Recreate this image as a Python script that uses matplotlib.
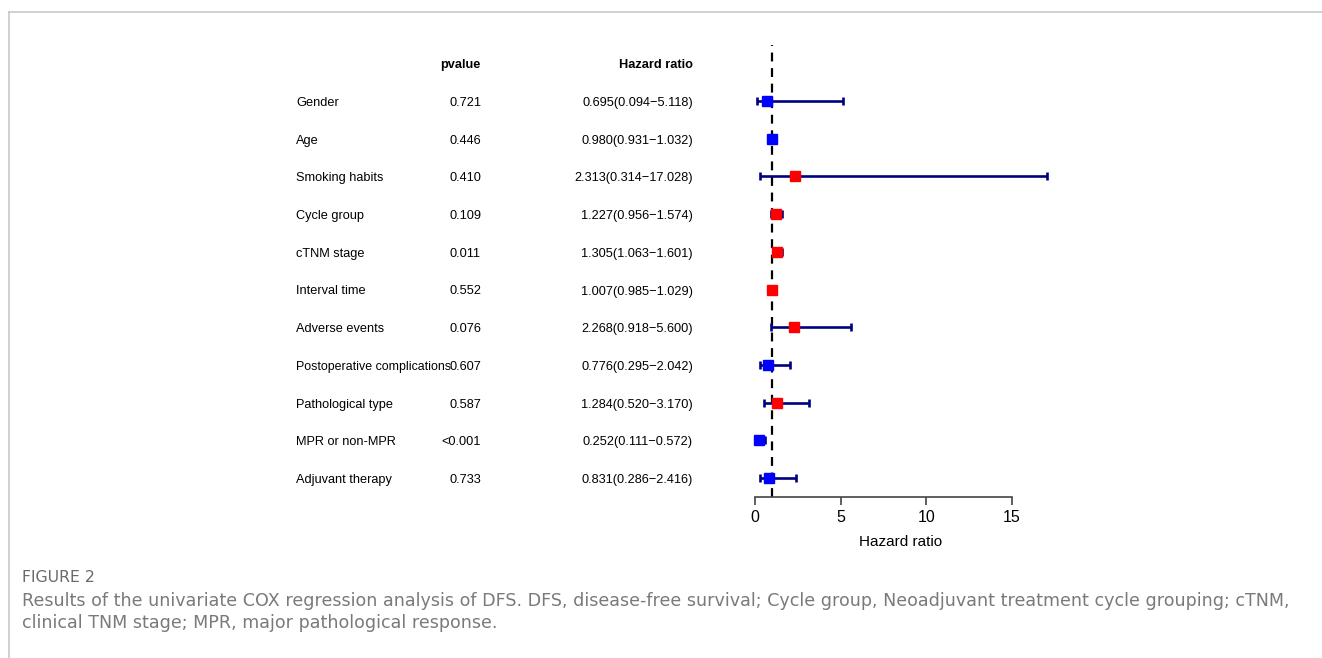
import matplotlib.pyplot as plt
from matplotlib import transforms

# variables and statistics
variables = ['Gender', 'Age', 'Smoking habits', 'Cycle group', 'cTNM stage',
             'Interval time', 'Adverse events', 'Postoperative complications',
             'Pathological type', 'MPR or non-MPR', 'Adjuvant therapy']
pvalues = ['0.721', '0.446', '0.410', '0.109', '0.011', '0.552', '0.076',
           '0.607', '0.587', '<0.001', '0.733']
hr = [0.695, 0.980, 2.313, 1.227, 1.305, 1.007, 2.268, 0.776, 1.284, 0.252, 0.831]
hr_low = [0.094, 0.931, 0.314, 0.956, 1.063, 0.985, 0.918, 0.295, 0.520, 0.111, 0.286]
hr_high = [5.118, 1.032, 17.028, 1.574, 1.601, 1.029, 5.600, 2.042, 3.170, 0.572, 2.416]
xticks = [0, 5, 10, 15]

W, H = 1322, 658
fig = plt.figure(figsize=(W / 100, H / 100), dpi=100)
plt.rcParams['font.family'] = ['Liberation Sans', 'DejaVu Sans']

# light frame of the figure panel
fig.add_artist(plt.Line2D([9 / W, 9 / W], [0, 1 - 12 / H], color='#c8c8c8', lw=1.2))
fig.add_artist(plt.Line2D([9 / W, 1], [1 - 12 / H, 1 - 12 / H], color='#c8c8c8', lw=1.2))

# forest plot axes: x=0 at 755 px, x=15 at 1012 px
px_unit = (1012 - 755) / 15
xmax = 17.6
ax_left, ax_top, ax_bot = 755, 45, 497
ax = fig.add_axes([ax_left / W, 1 - ax_bot / H, xmax * px_unit / W, (ax_bot - ax_top) / H])
ax.set_xlim(0, xmax)
row_px = 37.7
ax.set_ylim(10 + (ax_bot - 478) / row_px, -(101 - ax_top) / row_px)

rows = list(range(len(variables)))
for i in rows:
    ax.errorbar(hr[i], i, xerr=[[hr[i] - hr_low[i]], [hr_high[i] - hr[i]]],
                fmt='none', ecolor='#000080', elinewidth=1.9, capsize=3, capthick=1.9,
                clip_on=False, zorder=2)
    ax.plot(hr[i], i, marker='s', markersize=7.5, linestyle='none',
            color='red' if hr[i] > 1 else 'blue', clip_on=False, zorder=3)

ax.axvline(1, color='black', lw=1.6, dashes=(4, 3), zorder=1)

for s in ['top', 'right', 'left']:
    ax.spines[s].set_visible(False)
ax.spines['bottom'].set_bounds(0, 15)
ax.spines['bottom'].set_color('#444444')
ax.spines['bottom'].set_linewidth(1.2)
ax.set_yticks([])
ax.set_xticks(xticks)
ax.tick_params(axis='x', length=6, width=1.2, color='#444444', labelsize=11.5, pad=3)
ax.set_xlabel('Hazard ratio', fontsize=11)
ax.xaxis.set_label_coords(901 / W, 1 - 542 / H, transform=fig.transFigure)
ax.xaxis.label.set_va('center')

# table columns: x in figure pixels, y in row units (nudged 2 px down)
trans = transforms.offset_copy(
    transforms.blended_transform_factory(fig.transFigure, ax.transData),
    fig=fig, y=-2, units='dots')
fs = 9.2
ax.text(481 / W, -1, 'pvalue', transform=trans, ha='right', va='center',
        fontsize=fs, fontweight='bold')
ax.text(693 / W, -1, 'Hazard ratio', transform=trans, ha='right', va='center',
        fontsize=fs, fontweight='bold')
for i in rows:
    lab_fs = 8.9 if len(variables[i]) > 20 else fs
    ax.text(296 / W, i, variables[i], transform=trans, ha='left', va='center', fontsize=lab_fs)
    ax.text(481 / W, i, pvalues[i], transform=trans, ha='right', va='center', fontsize=fs)
    ax.text(693 / W, i, '%.3f(%.3f\u2212%.3f)' % (hr[i], hr_low[i], hr_high[i]),
            transform=trans, ha='right', va='center', fontsize=fs)

# caption
fig.text(22 / W, 1 - 577 / H, 'FIGURE 2', fontsize=11.3, color='#6a6a6a',
         family=['DejaVu Sans'], va='center')
caption_lines = ['Results of the univariate COX regression analysis of DFS. DFS, disease-free survival; '
                 'Cycle group, Neoadjuvant treatment cycle grouping; cTNM,',
                 'clinical TNM stage; MPR, major pathological response.']
for k, line in enumerate(caption_lines):
    fig.text(22 / W, 1 - (606 + 22 * k) / H, line, fontsize=12.6, color='#7a7a7a',
             family=['DejaVu Sans'], va='baseline')

fig.savefig('out.png', dpi=100)
